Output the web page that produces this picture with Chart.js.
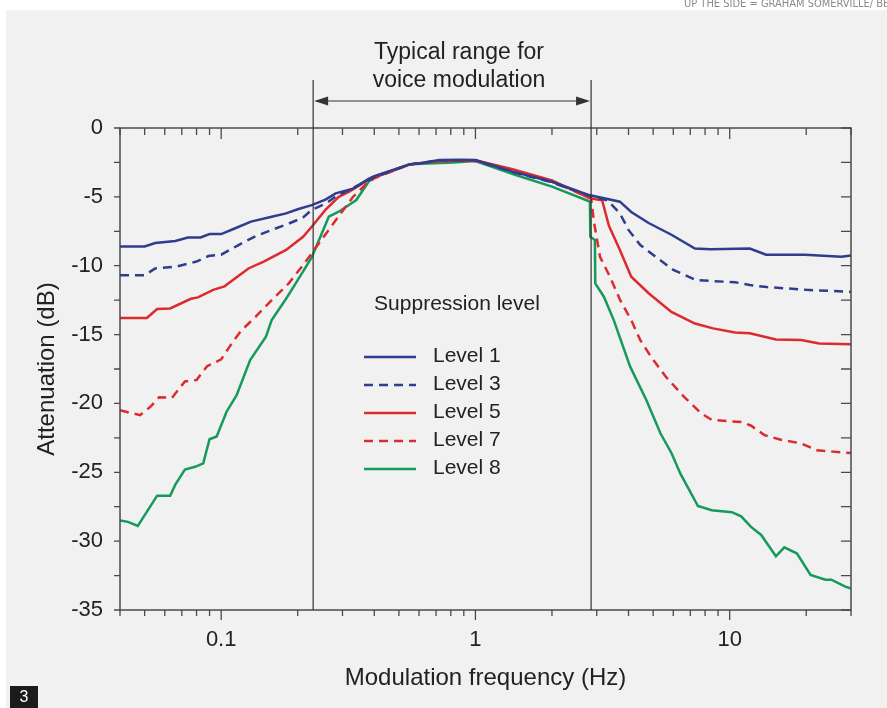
<!DOCTYPE html>
<html>
<head>
<meta charset="utf-8">
<script src="https://cdn.jsdelivr.net/npm/chart.js@4"></script>
<style>
  html, body { margin: 0; padding: 0; background: #fff; }
  #chart { display: block; }
</style>
</head>
<body>
<canvas id="chart" width="887" height="708"></canvas>
<script>
// values (frequency in Hz, attenuation in dB)
const level1Freq = [0.04, 0.05, 0.055, 0.066, 0.074, 0.083, 0.09, 0.1, 0.113, 0.131, 0.158, 0.18, 0.2, 0.227, 0.257, 0.282, 0.33, 0.38, 0.4, 0.55, 0.6, 0.72, 0.87, 1.0, 1.4, 2.0, 2.8, 3.7, 4.1, 4.8, 5.9, 7.3, 8.4, 12.0, 13.9, 19.8, 27.5, 30];
const level1Db = [-8.6, -8.6, -8.35, -8.2, -7.95, -7.95, -7.7, -7.7, -7.3, -6.8, -6.45, -6.2, -5.9, -5.6, -5.2, -4.75, -4.4, -3.7, -3.5, -2.64, -2.57, -2.32, -2.3, -2.32, -3.17, -3.9, -4.87, -5.35, -6.1, -6.9, -7.75, -8.75, -8.8, -8.75, -9.2, -9.2, -9.35, -9.25];

const level3Freq = [0.04, 0.05, 0.055, 0.067, 0.08, 0.089, 0.1, 0.117, 0.135, 0.158, 0.184, 0.21, 0.227, 0.26, 0.285, 0.31, 0.38, 0.4, 0.55, 0.72, 1.0, 1.4, 2.0, 2.8, 3.3, 3.7, 4.0, 4.45, 5.2, 6.0, 7.4, 10.5, 12.0, 14.0, 20, 30];
const level3Db = [-10.7, -10.7, -10.2, -10.05, -9.7, -9.3, -9.2, -8.5, -7.9, -7.4, -6.95, -6.5, -5.95, -5.45, -4.9, -4.6, -3.78, -3.55, -2.65, -2.35, -2.35, -3.2, -3.95, -4.9, -5.25, -6.2, -7.4, -8.5, -9.45, -10.3, -11.05, -11.2, -11.4, -11.55, -11.75, -11.9];

const level5Freq = [0.04, 0.051, 0.056, 0.063, 0.076, 0.081, 0.093, 0.103, 0.128, 0.147, 0.18, 0.21, 0.227, 0.257, 0.29, 0.32, 0.38, 0.4, 0.55, 0.72, 1.0, 1.4, 2.0, 2.82, 3.15, 3.35, 3.7, 4.1, 4.8, 5.9, 7.3, 8.6, 10.5, 12, 15.2, 19.1, 22.5, 30];
const level5Db = [-13.8, -13.8, -13.15, -13.1, -12.4, -12.3, -11.75, -11.5, -10.2, -9.7, -8.85, -7.9, -7.17, -5.95, -5.0, -4.6, -3.75, -3.6, -2.65, -2.4, -2.35, -3.0, -3.8, -5.1, -5.25, -7.1, -8.86, -10.8, -12.0, -13.35, -14.2, -14.55, -14.85, -14.9, -15.35, -15.4, -15.65, -15.7];

const level7Freq = [0.04, 0.048, 0.053, 0.057, 0.064, 0.072, 0.08, 0.088, 0.1, 0.11, 0.12, 0.135, 0.158, 0.184, 0.207, 0.227, 0.26, 0.29, 0.33, 0.37, 0.4, 0.55, 0.72, 1.0, 1.4, 2.0, 2.85, 2.93, 3.09, 3.38, 3.71, 4.1, 4.45, 4.9, 5.6, 6.6, 7.7, 8.5, 11.1, 12.1, 13.7, 16, 19.1, 22, 25.5, 30];
const level7Db = [-20.5, -20.85, -20.2, -19.55, -19.6, -18.4, -18.3, -17.3, -16.8, -15.65, -14.7, -13.8, -12.5, -11.3, -10.1, -9.1, -7.6, -6.4, -5.0, -4.1, -3.65, -2.65, -2.4, -2.4, -3.05, -3.9, -5.1, -6.9, -9.35, -10.8, -12.5, -13.95, -15.4, -16.6, -18.05, -19.5, -20.7, -21.2, -21.35, -21.6, -22.3, -22.65, -22.9, -23.4, -23.5, -23.6];

const level8Freq = [0.04, 0.043, 0.047, 0.056, 0.063, 0.066, 0.072, 0.079, 0.085, 0.09, 0.096, 0.105, 0.115, 0.13, 0.15, 0.158, 0.18, 0.2, 0.227, 0.265, 0.29, 0.34, 0.38, 0.4, 0.55, 0.82, 1.0, 1.44, 2.0, 2.72, 2.82, 2.83, 2.95, 2.96, 3.2, 3.5, 4.06, 4.7, 5.34, 5.9, 6.4, 7.5, 8.5, 10.2, 11.1, 12.1, 13.3, 15.2, 16.4, 18.4, 20.8, 23.8, 25.1, 28.5, 30];
const level8Db = [-28.5, -28.6, -28.9, -26.7, -26.7, -25.9, -24.8, -24.6, -24.35, -22.6, -22.4, -20.6, -19.4, -16.85, -15.15, -13.95, -12.4, -11.05, -9.4, -6.44, -6.08, -5.23, -3.9, -3.58, -2.64, -2.5, -2.4, -3.41, -4.26, -5.23, -5.35, -7.9, -8.13, -11.28, -12.25, -13.95, -17.33, -19.75, -22.17, -23.6, -25.1, -27.45, -27.75, -27.9, -28.2, -28.95, -29.55, -31.1, -30.45, -30.9, -32.45, -32.8, -32.8, -33.3, -33.45];

const seriesNames = ['Level 1', 'Level 3', 'Level 5', 'Level 7', 'Level 8'];
const yTickLabels = [0, -5, -10, -15, -20, -25, -30, -35];
const xTickLabels = [0.1, 1, 10];
const voiceRange = [0.23, 2.85];

const FONT = '"Liberation Sans", Arial, sans-serif';
const BLUE = '#2f3d8c';
const RED = '#dc2b2e';
const GREEN = '#159a5b';

function pairs(freqs, dbs) {
    return freqs.map((f, i) => ({ x: f, y: dbs[i] }));
}

const decor = {
    id: 'decor',
    beforeDraw(chart) {
        const ctx = chart.ctx;
        ctx.save();
        ctx.fillStyle = '#ffffff';
        ctx.fillRect(0, 0, chart.width, chart.height);
        ctx.fillStyle = '#f1f1f1';
        ctx.fillRect(6, 10, chart.width - 6, chart.height - 10);
        // credit line, cut by the right edge as in the print
        ctx.fillStyle = '#8a8a8a';
        ctx.font = '11px "DejaVu Sans Condensed", ' + FONT;
        ctx.textBaseline = 'middle';
        ctx.fillText('UP THE SIDE = GRAHAM SOMERVILLE/ BBC', 684, 4);
        // figure number box
        ctx.fillStyle = '#1b1b1b';
        ctx.fillRect(10, 686, 28, 22);
        ctx.fillStyle = '#ffffff';
        ctx.font = '16px ' + FONT;
        ctx.textAlign = 'center';
        ctx.fillText('3', 24, 698);
        ctx.restore();
    },
    afterDraw(chart) {
        const ctx = chart.ctx;
        const a = chart.chartArea;
        const xs = chart.scales.x;
        const ys = chart.scales.y;
        ctx.save();

        // frame
        ctx.strokeStyle = '#4a4a4a';
        ctx.lineWidth = 1.5;
        ctx.strokeRect(a.left, a.top, a.right - a.left, a.bottom - a.top);

        // x ticks: bottom outward, top inward
        ctx.lineWidth = 1.3;
        for (let e = -2; e <= 1; e++) {
            for (let m = 1; m <= 9; m++) {
                let v = m * Math.pow(10, e);
                if (v < 0.0399 || v > 30.01) continue;
                let px = xs.getPixelForValue(v);
                let len = m === 1 ? 10 : 6;
                ctx.beginPath();
                ctx.moveTo(px, a.bottom);
                ctx.lineTo(px, a.bottom + len);
                ctx.moveTo(px, a.top);
                ctx.lineTo(px, a.top + len + 1);
                ctx.stroke();
            }
        }
        // y ticks: left outward, right inward
        for (let v = 0; v >= -35; v -= 2.5) {
            let py = ys.getPixelForValue(v);
            ctx.beginPath();
            ctx.moveTo(a.left - 6, py);
            ctx.lineTo(a.left, py);
            ctx.moveTo(a.right - 10, py);
            ctx.lineTo(a.right, py);
            ctx.stroke();
        }

        // voice range markers
        let x0 = xs.getPixelForValue(voiceRange[0]);
        let x1 = xs.getPixelForValue(voiceRange[1]);
        ctx.strokeStyle = '#333';
        ctx.lineWidth = 1.2;
        ctx.beginPath();
        ctx.moveTo(x0, 80);
        ctx.lineTo(x0, a.bottom);
        ctx.moveTo(x1, 80);
        ctx.lineTo(x1, a.bottom);
        ctx.stroke();

        let ay = 101;
        ctx.beginPath();
        ctx.moveTo(x0 + 4, ay);
        ctx.lineTo(x1 - 4, ay);
        ctx.stroke();
        ctx.fillStyle = '#333';
        ctx.beginPath();
        ctx.moveTo(x0 + 1, ay);
        ctx.lineTo(x0 + 15, ay - 4.5);
        ctx.lineTo(x0 + 15, ay + 4.5);
        ctx.closePath();
        ctx.fill();
        ctx.beginPath();
        ctx.moveTo(x1 - 1, ay);
        ctx.lineTo(x1 - 15, ay - 4.5);
        ctx.lineTo(x1 - 15, ay + 4.5);
        ctx.closePath();
        ctx.fill();

        ctx.fillStyle = '#222';
        ctx.font = '23px ' + FONT;
        ctx.textAlign = 'center';
        ctx.textBaseline = 'middle';
        ctx.fillText('Typical range for', 459, 53);
        ctx.fillText('voice modulation', 459, 81);

        // legend
        ctx.font = '21px ' + FONT;
        ctx.fillText('Suppression level', 457, 304);
        ctx.textAlign = 'left';
        chart.data.datasets.forEach((ds, i) => {
            let ly = 356 + i * 28;
            ctx.strokeStyle = ds.borderColor;
            ctx.lineWidth = ds.borderWidth;
            ctx.setLineDash(ds.borderDash || []);
            ctx.beginPath();
            ctx.moveTo(364, ly + 1);
            ctx.lineTo(416, ly + 1);
            ctx.stroke();
            ctx.setLineDash([]);
            ctx.fillStyle = '#222';
            ctx.fillText(ds.label, 433, ly);
        });
        ctx.restore();
    }
};

const datasets = [
    { label: seriesNames[0], data: pairs(level1Freq, level1Db), borderColor: BLUE, borderWidth: 2.5 },
    { label: seriesNames[1], data: pairs(level3Freq, level3Db), borderColor: BLUE, borderWidth: 2.5, borderDash: [9, 6] },
    { label: seriesNames[2], data: pairs(level5Freq, level5Db), borderColor: RED, borderWidth: 2.5 },
    { label: seriesNames[3], data: pairs(level7Freq, level7Db), borderColor: RED, borderWidth: 2.5, borderDash: [9, 6] },
    { label: seriesNames[4], data: pairs(level8Freq, level8Db), borderColor: GREEN, borderWidth: 2.5 }
];

new Chart(document.getElementById('chart'), {
    type: 'line',
    data: { datasets: datasets },
    options: {
        responsive: false,
        animation: false,
        devicePixelRatio: 1,
        layout: { padding: { left: 0, right: 36, top: 128, bottom: 0 } },
        elements: { point: { radius: 0 }, line: { tension: 0, borderCapStyle: 'butt' } },
        plugins: { legend: { display: false }, tooltip: { enabled: false } },
        scales: {
            x: {
                type: 'logarithmic',
                min: 0.04,
                max: 30,
                grid: { display: false, drawTicks: false },
                border: { display: false },
                afterFit(scale) { scale.height = 98; },
                ticks: {
                    autoSkip: false,
                    maxRotation: 0,
                    padding: 17,
                    color: '#222',
                    font: { family: FONT, size: 22 },
                    callback: (v) => {
                        let t = xTickLabels.find(t => Math.abs(t - v) < 1e-9);
                        return t === undefined ? '' : String(t);
                    }
                },
                title: {
                    display: true,
                    text: 'Modulation frequency (Hz)',
                    color: '#222',
                    font: { family: FONT, size: 24 },
                    padding: { top: 0, bottom: 15 }
                }
            },
            y: {
                min: -35,
                max: 0,
                grid: { display: false, drawTicks: false },
                border: { display: false },
                afterFit(scale) { scale.width = 120; },
                ticks: {
                    stepSize: 5,
                    padding: 17,
                    color: '#222',
                    font: { family: FONT, size: 22 },
                    callback: (v) => yTickLabels.includes(v) ? String(v) : ''
                },
                title: {
                    display: true,
                    text: 'Attenuation (dB)',
                    color: '#222',
                    font: { family: FONT, size: 24 },
                    padding: { top: 33, bottom: 0 }
                }
            }
        }
    },
    plugins: [decor]
});
</script>
</body>
</html>
